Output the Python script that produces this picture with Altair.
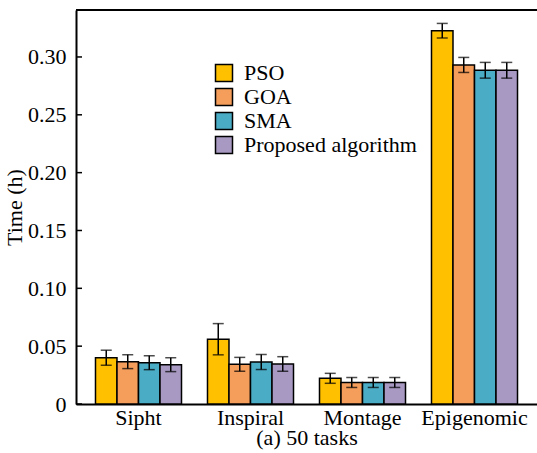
import altair as alt
import pandas as pd

groups = ["Sipht", "Inspiral", "Montage", "Epigenomic"]
algos = ["PSO", "GOA", "SMA", "Proposed algorithm"]
colors = ["#FFC000", "#F59D5A", "#4BACC6", "#A899C2"]

pso = [0.0400, 0.0560, 0.0222, 0.3227]
goa = [0.0366, 0.0343, 0.0186, 0.2931]
sma = [0.0357, 0.0363, 0.0186, 0.2885]
prop = [0.0340, 0.0346, 0.0186, 0.2885]

pso_err = [0.0065, 0.0135, 0.0043, 0.0063]
goa_err = [0.0060, 0.0060, 0.0043, 0.0065]
sma_err = [0.0060, 0.0065, 0.0043, 0.0068]
prop_err = [0.0060, 0.0063, 0.0043, 0.0068]

y_ticks = [0, 0.05, 0.10, 0.15, 0.20, 0.25, 0.30]

rows = []
for a, vals, errs in zip(algos, [pso, goa, sma, prop], [pso_err, goa_err, sma_err, prop_err]):
    for g, v, e in zip(groups, vals, errs):
        rows.append({"group": g, "algo": a, "value": v, "lo": v - e, "hi": v + e})
df = pd.DataFrame(rows)
ticks_df = pd.DataFrame({"t": y_ticks})

FONT = "'Liberation Serif', 'Times New Roman', Times, serif"
FS = 22
W, H = 461, 394

x_enc = alt.X("group:N", sort=groups,
              scale=alt.Scale(paddingInner=0.232, paddingOuter=0.174),
              axis=alt.Axis(title="(a) 50 tasks", labelAngle=0, ticks=False,
                            domainColor="black", domainWidth=2,
                            labelFont=FONT, labelFontSize=FS, labelColor="black",
                            labelPadding=3, titleFont=FONT, titleFontSize=FS,
                            titleFontWeight="normal", titleColor="black", titlePadding=-1))
xo_enc = alt.XOffset("algo:N", sort=algos, scale=alt.Scale(paddingInner=0, paddingOuter=0))
y_scale = alt.Scale(domain=[0, 0.3406], nice=False, zero=True)

bars = alt.Chart(df).mark_bar(stroke="black", strokeWidth=1.5).encode(
    x=x_enc,
    xOffset=xo_enc,
    y=alt.Y("value:Q", scale=y_scale,
            axis=alt.Axis(title="Time (h)", values=y_ticks, grid=False, ticks=False,
                          labelExpr="datum.value == 0 ? '0' : format(datum.value, '.2f')",
                          domainColor="black", domainWidth=2,
                          labelFont=FONT, labelFontSize=FS, labelColor="black",
                          labelPadding=10, titleFont=FONT, titleFontSize=FS,
                          titleFontWeight="normal", titleColor="black", titlePadding=1)),
    color=alt.Color("algo:N", sort=algos, scale=alt.Scale(domain=algos, range=colors),
                    legend=alt.Legend(title=None, orient="none", legendX=137, legendY=52,
                                      symbolType="square", symbolSize=289,
                                      symbolStrokeColor="black", symbolStrokeWidth=1.5,
                                      labelFont=FONT, labelFontSize=FS, labelColor="black",
                                      labelLimit=400, rowPadding=0, labelOffset=9)),
)

err = alt.Chart(df).mark_rule(color="black", strokeWidth=1.5).encode(
    x=alt.X("group:N", sort=groups), xOffset=xo_enc,
    y=alt.Y("lo:Q", scale=y_scale), y2="hi:Q")
cap_lo = alt.Chart(df).mark_tick(color="black", thickness=1.5, size=11).encode(
    x=alt.X("group:N", sort=groups), xOffset=xo_enc, y=alt.Y("lo:Q", scale=y_scale))
cap_hi = alt.Chart(df).mark_tick(color="black", thickness=1.5, size=11).encode(
    x=alt.X("group:N", sort=groups), xOffset=xo_enc, y=alt.Y("hi:Q", scale=y_scale))

inner_ticks = alt.Chart(ticks_df).mark_rule(color="black", strokeWidth=1.5).encode(
    y=alt.Y("t:Q", scale=y_scale), x=alt.value(0), x2=alt.value(6))

top_line = alt.Chart(ticks_df).mark_rule(color="black", strokeWidth=2).encode(
    x=alt.value(0), x2=alt.value(W), y=alt.value(0))

chart = alt.layer(bars, err, cap_lo, cap_hi, inner_ticks, top_line).properties(
    width=W, height=H,
    autosize=alt.AutoSizeParams(type="none"),
    padding={"left": 76, "top": 10, "right": 0, "bottom": 49},
).configure_view(stroke=None).configure(background="white")

chart.save("out.html", embed_options={"renderer": "svg", "actions": False})
